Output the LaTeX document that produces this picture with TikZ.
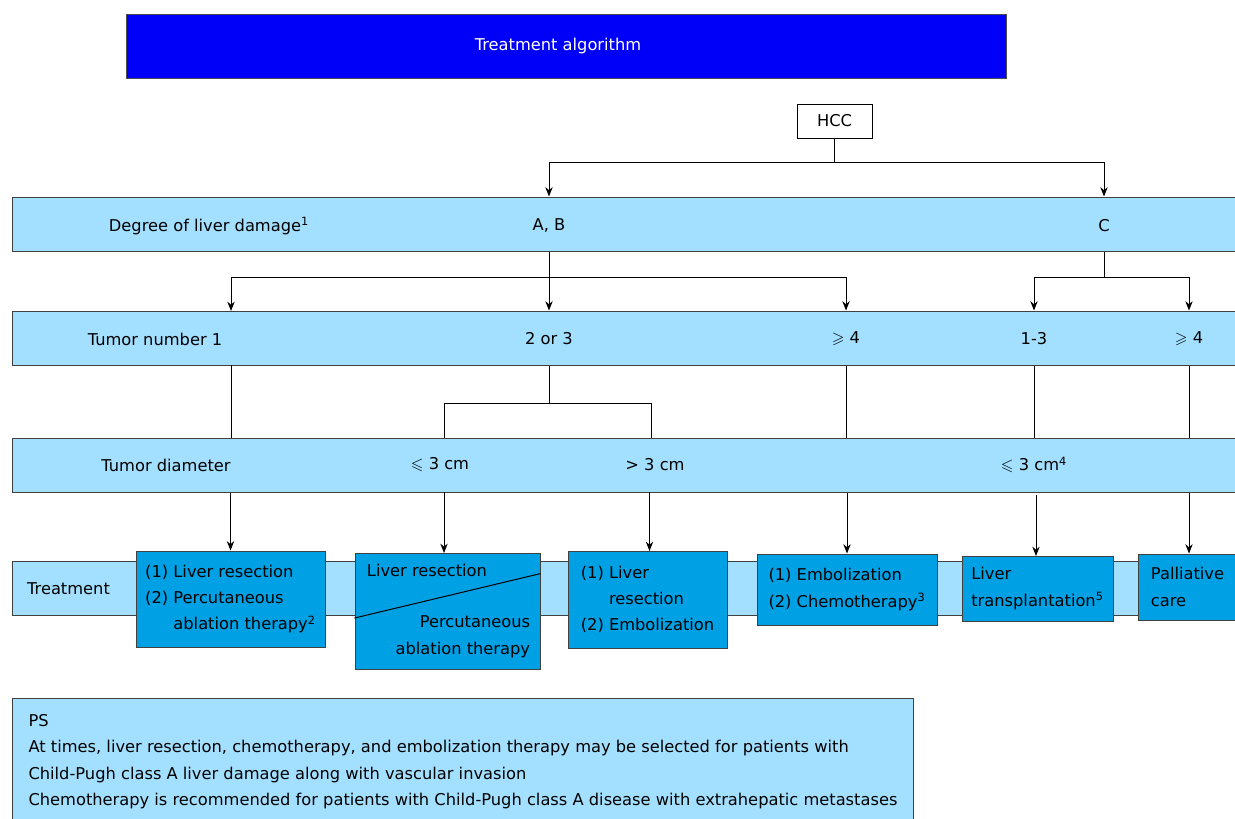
\documentclass[tikz,border=0pt]{standalone}
\usepackage{amssymb}
\usepackage{fontspec}
\setmainfont{DejaVu Sans}
\usetikzlibrary{arrows.meta,calc}

\definecolor{bandblue}{RGB}{163,224,255}
\definecolor{cellblue}{RGB}{0,160,228}
\definecolor{headblue}{RGB}{0,0,248}

\begin{document}
\begin{tikzpicture}[x=0.75pt, y=-0.75pt, line width=0.75pt,
    font=\fontsize{12.2}{19.75}\selectfont,
    band/.style={draw=black!75, fill=bandblue, minimum width=924.75pt, minimum height=40.5pt},
    cell/.style={draw=black!75, fill=cellblue, align=left, inner sep=0pt},
    arr/.style={-{Stealth[length=7pt, width=5.5pt]}}]
    \useasboundingbox (0,0) rectangle (1235,818);

    % Titolo
    \node[fill=headblue, draw=black!70, text=white, minimum width=660pt, minimum height=48pt] (title) at (566,46) {\hspace*{-12pt}Treatment algorithm};
    \node[draw, fill=white, minimum width=56.25pt, minimum height=25.5pt] (hcc) at (834.5,121) {HCC};

    % Fasce
    \node[band] (damage) at (628.5,224) {};
    \node[band] (number) at (628.5,338) {};
    \node[band] (diam) at (628.5,465) {};
    \node[band] (treat) at (628.5,588) {};

    % Testi nelle fasce
    \node (lbldamage) at (209,226) {Degree of liver damage\textsuperscript{1}};
    \node (ab) at (549,226) {A, B};
    \node (c) at (1104,226) {C};
    \node (lblnumber) at (155,339) {Tumor number 1};
    \node (n23) at (549,339) {2 or 3};
    \node (n4) at (846,339) {$\geqslant$ 4};
    \node (n13) at (1034,339) {1-3};
    \node (nc4) at (1189,339) {$\geqslant$ 4};
    \node (lbldiam) at (166,465) {Tumor diameter};
    \node (d3) at (440,465) {$\leqslant$ 3 cm};
    \node (dg3) at (655,465) {> 3 cm};
    \node (dc3) at (1034,465) {$\leqslant$ 3 cm\textsuperscript{4}};
    \node (lbltreat) at (68.5,589) {Treatment};

    % Trattamenti
    \node[cell, minimum width=141.75pt, minimum height=72pt] (t1) at (230.5,599) {(1) Liver resection\\(2) Percutaneous\\\phantom{(2) }ablation therapy\textsuperscript{2}};
    \node[cell, minimum width=138.75pt, minimum height=87pt] (t2) at (447.5,611) {};
    \node[cell, minimum width=119.25pt, minimum height=72.75pt] (t3) at (647.5,599.5) {(1) Liver\\\phantom{(1) }resection\\(2) Embolization};
    \node[cell, minimum width=135pt, minimum height=53.25pt] (t4) at (847,589.5) {(1) Embolization\\(2) Chemotherapy\textsuperscript{3}};
    \node[cell, minimum width=113.25pt, minimum height=48.75pt] (t5) at (1037.5,588.5) {Liver\\transplantation\textsuperscript{5}};
    \node[cell, minimum width=74.25pt, minimum height=49.5pt] (t6) at (1187.5,587) {Palliative\\care};

    % Casella divisa
    \draw ($(t2.north west)!0.56!(t2.south west)$) -- ($(t2.north east)!0.18!(t2.south east)$);
    \node[anchor=west] (t2a) at (362,570) {Liver resection};
    \node[anchor=east] (t2b) at (535,622) {Percutaneous};
    \node[anchor=east] (t2c) at (535,650) {ablation therapy};

    % Nota
    \node[draw=black!75, fill=bandblue, anchor=north west, minimum width=675.75pt, minimum height=94.5pt, align=left] (ps) at (12,698) {PS\\At times, liver resection, chemotherapy, and embolization therapy may be selected for patients with\\Child-Pugh class A liver damage along with vascular invasion\\Chemotherapy is recommended for patients with Child-Pugh class A disease with extrahepatic metastases};

    % HCC -> grado
    \coordinate (sp0) at (834.5,162);
    \draw (hcc) -- (sp0);
    \draw[arr] (sp0) -| (ab |- damage.north);
    \draw[arr] (sp0) -| (c |- damage.north);

    % A, B -> numero
    \coordinate (sp1) at (549,277);
    \draw[arr] (ab |- damage.south) -- (ab |- number.north);
    \draw[arr] (sp1) -| (231,311);
    \draw[arr] (sp1) -| (n4 |- number.north);

    % C -> numero
    \coordinate (sp2) at (1104,277);
    \draw (c |- damage.south) -- (sp2);
    \draw[arr] (sp2) -| (n13 |- number.north);
    \draw[arr] (sp2) -| (nc4 |- number.north);

    % numero -> diametro
    \draw (231,365) -- (231,438);
    \coordinate (sp3) at (549,403);
    \draw (n23 |- number.south) -- (sp3);
    \draw (sp3) -| (444,438);
    \draw (sp3) -| (651,438);
    \draw (n4 |- number.south) -- (n4 |- diam.north);
    \draw (n13 |- number.south) -- (n13 |- diam.north);
    \draw (nc4 |- number.south) -- (nc4 |- diam.north);

    % diametro -> trattamento
    \draw[arr] (t1.north |- diam.south) -- (t1.north);
    \draw[arr] (444,492) -- (444,553);
    \draw[arr] (649.5,492) -- (649.5,551);
    \draw[arr] (t4.north |- diam.south) -- (t4.north);
    \draw[arr] (1036,495) -- (1036,556);
    \draw[arr] (nc4 |- diam.south) -- (nc4 |- t6.north);
\end{tikzpicture}
\end{document}
